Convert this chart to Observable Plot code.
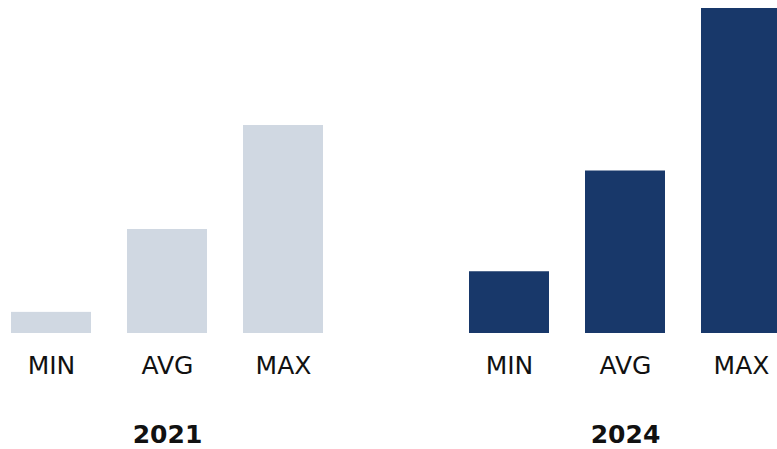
<!DOCTYPE html>
<html>
<head>
<meta charset="utf-8">
<script src="https://cdn.jsdelivr.net/npm/d3@7"></script>
<script src="https://cdn.jsdelivr.net/npm/@observablehq/plot@0.6"></script>
<style>
  html, body { margin: 0; padding: 0; background: #fff; overflow: hidden; width: 777px; height: 449px; }
</style>
</head>
<body>
<div id="chart"></div>
<script>
const years = ["2021", "2024"];
const stats = ["MIN", "AVG", "MAX"];
const values2021 = [6.5, 32, 64];
const values2024 = [19, 50, 100];
const yearColors = ["#d0d8e2", "#18386a"];

const data = [];
years.forEach((yr, i) => {
  const vals = i === 0 ? values2021 : values2024;
  stats.forEach((s, j) => data.push({year: yr, stat: s, value: vals[j]}));
});

const chart = Plot.plot({
  width: 790,
  height: 449,
  marginLeft: 10,
  marginRight: 8,
  marginTop: 8,
  marginBottom: 116,
  style: {fontFamily: "DejaVu Sans, Verdana, sans-serif", maxWidth: "none", overflow: "visible", background: "white"},
  fx: {domain: years, paddingInner: 0.318, paddingOuter: 0},
  x: {domain: stats, paddingInner: 0.313, paddingOuter: 0},
  y: {domain: [0, 100], axis: null},
  color: {domain: years, range: yearColors},
  marks: [
    Plot.barY(data, {fx: "year", x: "stat", y: "value", fill: "year"}),
    Plot.axisX({tickSize: 0, tickPadding: 23, fontSize: 25, fill: "#111", label: null}),
    Plot.axisFx({anchor: "bottom", tickSize: 0, tickPadding: 92, fontSize: 25, fontWeight: "bold", fill: "#111", label: null})
  ]
});
document.getElementById("chart").appendChild(chart);
</script>
</body>
</html>
